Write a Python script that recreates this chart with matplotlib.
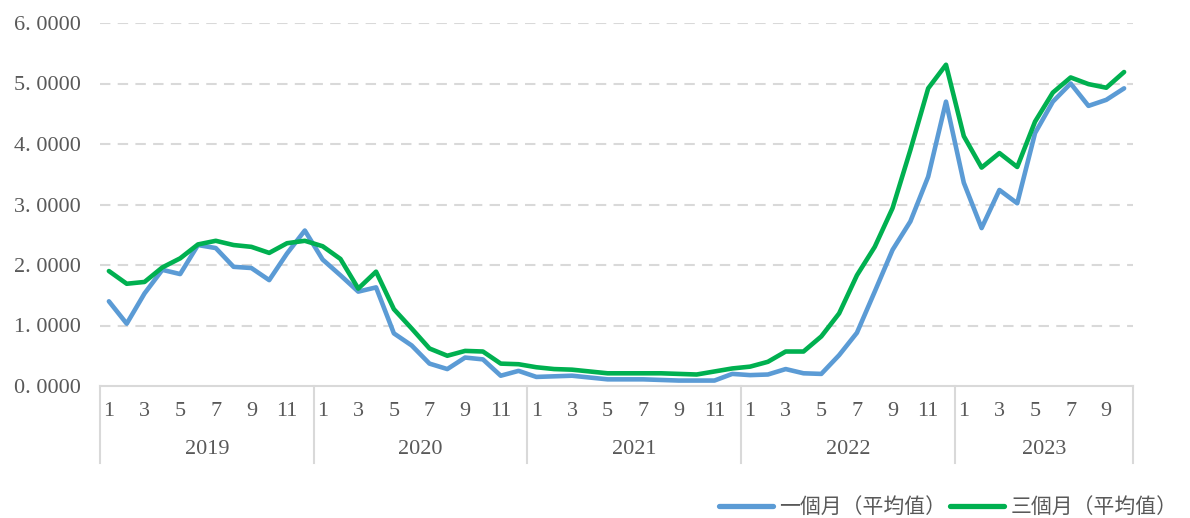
import matplotlib
matplotlib.use("Agg")
import matplotlib.pyplot as plt
from matplotlib.lines import Line2D

# Monthly averages, 2019-01 .. 2023-10
years = ["2019", "2020", "2021", "2022", "2023"]
months_per_year = [12, 12, 12, 12, 10]
month_labels = ["1", "", "3", "", "5", "", "7", "", "9", "", "11", ""]

one_month = [
    1.40, 1.03, 1.53, 1.92, 1.85, 2.33, 2.28, 1.97, 1.95, 1.75, 2.19, 2.57,   # 2019
    2.09, 1.83, 1.56, 1.63, 0.87, 0.67, 0.37, 0.28, 0.47, 0.44, 0.17, 0.25,   # 2020
    0.15, 0.16, 0.17, 0.14, 0.11, 0.11, 0.11, 0.10, 0.09, 0.09, 0.09, 0.20,   # 2021
    0.18, 0.19, 0.28, 0.21, 0.20, 0.51, 0.88, 1.56, 2.25, 2.72, 3.46, 4.70,   # 2022
    3.36, 2.61, 3.24, 3.02, 4.18, 4.70, 5.00, 4.63, 4.73, 4.92,               # 2023
]
three_month = [
    1.90, 1.69, 1.72, 1.96, 2.11, 2.34, 2.40, 2.33, 2.30, 2.20, 2.36, 2.40,
    2.31, 2.10, 1.61, 1.89, 1.27, 0.95, 0.62, 0.50, 0.58, 0.57, 0.37, 0.36,
    0.31, 0.28, 0.27, 0.24, 0.21, 0.21, 0.21, 0.21, 0.20, 0.19, 0.24, 0.29,
    0.32, 0.40, 0.57, 0.57, 0.82, 1.20, 1.83, 2.30, 2.94, 3.90, 4.92, 5.31,
    4.13, 3.61, 3.85, 3.62, 4.37, 4.85, 5.10, 4.99, 4.93, 5.19,
]
series_names = ["一個月（平均值）", "三個月（平均值）"]
y_ticks = [0, 1, 2, 3, 4, 5, 6]

BLUE = "#5B9BD5"
GREEN = "#00B050"
GRID = "#D9D9D9"
TEXT = "#595959"
FONT = ["Liberation Serif", "Noto Sans CJK TC"]
FS = 16

W, H = 1190, 518
fig = plt.figure(figsize=(W / 100, H / 100), dpi=100)
left, right, top, bottom = 100, 1133, 23, 386
ax = fig.add_axes([left / W, 1 - bottom / H, (right - left) / W, (bottom - top) / H])

n = len(one_month)
x = [i + 0.5 for i in range(n)]
ax.plot(x, one_month, color=BLUE, lw=3.3, solid_joinstyle="round", solid_capstyle="round", zorder=3)
ax.plot(x, three_month, color=GREEN, lw=3.3, solid_joinstyle="round", solid_capstyle="round", zorder=4)

ax.set_xlim(0, n)
ax.set_ylim(0, 6)

# horizontal dashed gridlines
for v in y_ticks[1:]:
    ax.axhline(v, color=GRID, lw=1.5, ls=(0, (5, 3.5)), zorder=1)

for s in ["top", "right", "left"]:
    ax.spines[s].set_visible(False)
ax.spines["bottom"].set_color(GRID)
ax.spines["bottom"].set_linewidth(1.5)

ax.set_xticks([])
ax.set_yticks(y_ticks)
ax.set_yticklabels([f"{v}. 0000" for v in y_ticks], family=FONT, fontsize=FS, color=TEXT)
ax.tick_params(axis="y", length=0, pad=14)

# two-level category axis: months and years
tr = ax.get_xaxis_transform()
ax_h = bottom - top
month_y = -(411 - bottom) / ax_h
year_y = -(449 - bottom) / ax_h
sep_y = -(463 - bottom) / ax_h

start = 0
bounds = [0]
for yr, cnt in zip(years, months_per_year):
    for m in range(cnt):
        lab = month_labels[m]
        if lab:
            ax.text(start + m + 0.5, month_y, lab, transform=tr, ha="center", va="center",
                    family=FONT, fontsize=FS, color=TEXT)
    ax.text(start + cnt / 2, year_y, yr, transform=tr, ha="center", va="center",
            family=FONT, fontsize=FS, color=TEXT)
    start += cnt
    bounds.append(start)

for b in bounds:
    ax.plot([b, b], [0, sep_y], transform=tr, color=GRID, lw=1.5, clip_on=False)

handles = [Line2D([], [], color=BLUE, lw=3.8, solid_capstyle="round"),
           Line2D([], [], color=GREEN, lw=3.8, solid_capstyle="round")]
fig.legend(handles, series_names, loc="center right", bbox_to_anchor=(1188 / W, 1 - 508 / H),
           ncol=2, frameon=False, prop={"family": FONT, "size": 15},
           handlelength=2.6, handletextpad=0.3, columnspacing=0.2, borderpad=0,
           labelcolor=TEXT)

fig.savefig("out.png", dpi=100, facecolor="white")
